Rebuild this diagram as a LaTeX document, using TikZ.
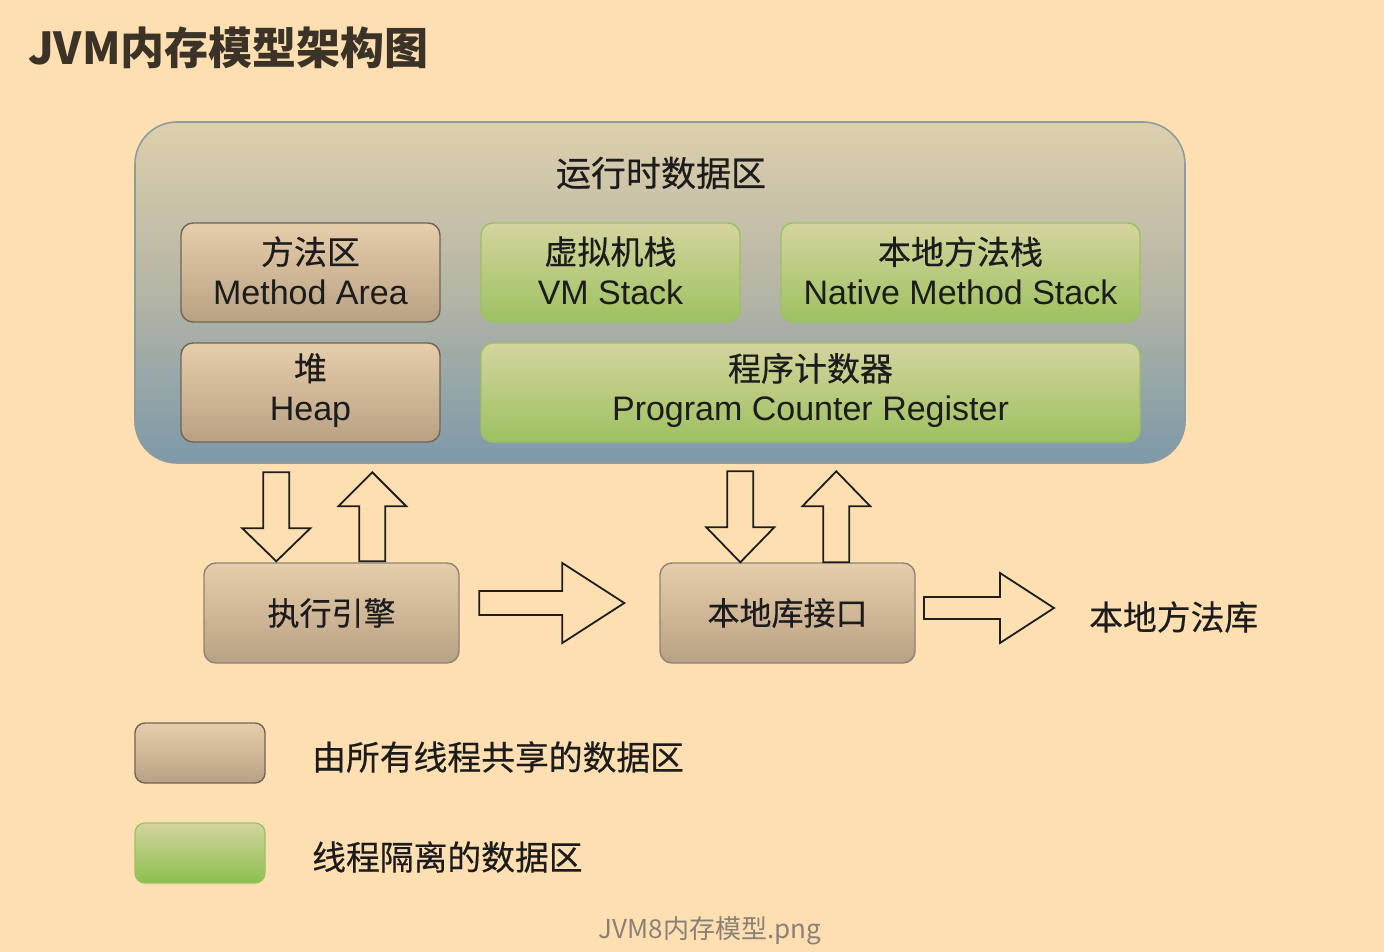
\documentclass[tikz,border=0pt]{standalone}
\usepackage{fontspec}
\setmainfont{Liberation Sans}
\newfontfamily\cjk[FakeBold=0.4]{Noto Sans CJK SC}
\newfontfamily\cjkt{Noto Sans CJK SC}
\usetikzlibrary{calc}
\definecolor{bgc}{HTML}{FEDFB2}
\definecolor{txt}{HTML}{1C1C1C}
\definecolor{ttl}{HTML}{3B3328}
\definecolor{capc}{HTML}{8B8075}
\definecolor{tanT}{HTML}{E6CEAB}
\definecolor{tanB}{HTML}{B8A083}
\definecolor{tanD}{HTML}{6F6456}
\definecolor{grnT}{HTML}{D4D49E}
\definecolor{grnB}{HTML}{9DC160}
\definecolor{grnL}{HTML}{8BC04E}
\definecolor{grnD}{HTML}{9FBF66}
\definecolor{outT}{HTML}{DDCFAC}
\definecolor{outM}{HTML}{B4B5A5}
\definecolor{outB}{HTML}{7D99A9}
\definecolor{outD}{HTML}{8E9CA2}
\definecolor{arrD}{HTML}{1E1E1E}
\tikzset{
  boxtxt/.style={text=txt, align=center, font=\fontsize{34}{40}\selectfont, inner sep=0pt},
  tanbox/.style={rounded corners=12pt, top color=tanT, bottom color=tanB, draw=tanD, line width=1.4pt, inner sep=0pt},
  grnbox/.style={rounded corners=12pt, top color=grnT, bottom color=grnB, draw=grnD, line width=1.4pt, inner sep=0pt},
  lowbox/.style={tanbox, draw=tanD!80, text=txt, font=\cjk\fontsize{32}{38}\selectfont},
  blockarr/.style={draw=arrD, line width=1.8pt, fill=bgc, line join=miter},
  pics/blockarrow/.style args={#1/#2/#3/#4}{code={
    \draw[blockarr] (0,0) -- (-#2,-#3) -- (-#2,-#4) -- (-#1,-#4) -- (-#1,#4) -- (-#2,#4) -- (-#2,#3) -- cycle;}},
  plain/.style={text=txt, inner sep=0pt, font=\cjk\fontsize{33.8}{40}\selectfont}
}
\newcommand\zhline[1]{{\cjk\fontsize{33}{40}\selectfont #1}}
\begin{document}
\begin{tikzpicture}[x=1pt,y=-1pt]
\fill[bgc] (0,0) rectangle (1384,952);
\useasboundingbox (0,0) rectangle (1384,952);

% title
\node[anchor=west, text=ttl, inner sep=0pt, font=\cjkt\bfseries\fontsize{44}{50}\selectfont] (title) at (28,48) {JVM内存模型架构图};

% runtime data area
\node[draw=outD, line width=1.6pt, rounded corners=42pt, top color=outT, bottom color=outB, middle color=outM,
      minimum width=1050, minimum height=341, inner sep=0pt] (rt) at (660,292.5) {};
\node[text=txt, inner sep=0pt, font=\cjk\fontsize{35}{40}\selectfont] (rtl) at (661,173) {运行时数据区};

\node[tanbox, minimum width=259, minimum height=99] (ma) at (310.5,272.5) {};
\node[tanbox, minimum width=259, minimum height=99] (heap) at (310.5,392.5) {};
\node[grnbox, minimum width=259, minimum height=99] (vms) at (610.5,272.5) {};
\node[grnbox, minimum width=359, minimum height=99] (nms) at (960.5,272.5) {};
\node[grnbox, minimum width=659, minimum height=99] (pc) at (810.5,392.5) {};

\node[boxtxt] (mal) at ($(ma.center)+(0,-2)$) {\zhline{方法区}\\Method Area};
\node[boxtxt] (heapl) at ($(heap.center)+(0,-2)$) {\zhline{堆}\\Heap};
\node[boxtxt] (vmsl) at ($(vms.center)+(0,-2)$) {\zhline{虚拟机栈}\\VM Stack};
\node[boxtxt] (nmsl) at ($(nms.center)+(0,-2)$) {\zhline{本地方法栈}\\Native Method Stack};
\node[boxtxt] (pcl) at ($(pc.center)+(0,-2)$) {\zhline{程序计数器}\\Program Counter Register};

% lower boxes
\node[lowbox, minimum width=255, minimum height=100] (exec) at (331.5,613) {执行引擎};
\node[lowbox, minimum width=255, minimum height=100] (nif) at (787.5,613) {本地库接口};
\node[plain, anchor=west] (nlib) at (1089,617) {本地方法库};

% arrow tips
\coordinate (d1) at ($(exec.north west)+(73,-1)$);
\coordinate (u1) at ($(exec.north west)+(169,-90)$);
\coordinate (d2) at ($(nif.north west)+(81,0)$);
\coordinate (u2) at ($(nif.north west)+(177,-91)$);
\coordinate (r1) at ($(nif.west)+(-35,-10)$);
\coordinate (r2) at ($(nlib.west)+(-35,-9)$);

\pic[rotate=-90] at (d1) {blockarrow=89/33/34/13};
\pic[rotate=90] at (u1) {blockarrow=89/34/34/13};
\pic[rotate=-90] at (d2) {blockarrow=91/35/34/13};
\pic[rotate=90] at (u2) {blockarrow=91/35/34/13};
\pic at (r1) {blockarrow=145/62/40/12};
\pic at (r2) {blockarrow=130/54/35/11};

% legend
\node[tanbox, rounded corners=10pt, minimum width=130, minimum height=60] (lg1) at (200,753) {};
\node[grnbox, rounded corners=10pt, top color=grnT, bottom color=grnL, minimum width=130, minimum height=60] (lg2) at (200,853) {};
\node[plain, anchor=west] (lt1) at (312,757) {由所有线程共享的数据区};
\node[plain, anchor=west] (lt2) at (312,857) {线程隔离的数据区};

% caption
\node[text=capc, inner sep=0pt, font=\cjkt\fontsize{26}{30}\selectfont] (cap) at (710,930.5) {JVM8内存模型.png};
\end{tikzpicture}
\end{document}
